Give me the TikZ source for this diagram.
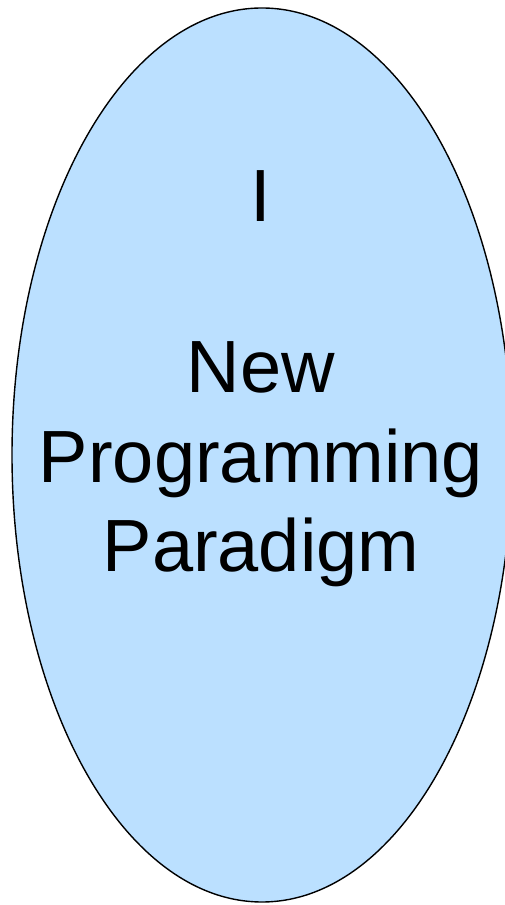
\documentclass[tikz,border=0pt]{standalone}
\usepackage{fontspec}
\setmainfont{Liberation Sans}
\usetikzlibrary{shapes.geometric,positioning}
\definecolor{paleblue}{RGB}{187,224,255}
\tikzset{
  bubble/.style = {ellipse, draw = black, line width = 1.4pt, fill = paleblue,
                   minimum width = 500pt, minimum height = 894pt, inner sep = 0pt},
  bigtext/.style = {anchor = base, inner sep = 0pt,
                    font = \fontsize{74}{89}\selectfont},
}
\begin{document}
\begin{tikzpicture}[x = 1pt, y = 1pt]

	\useasboundingbox (0,0) rectangle (504,905);

	\node[bubble] (part) at (262,450) {};

	\node[bigtext] (roman) at (261,683) {I};
	\node[bigtext] (new)   at (261,512) {New};
	\node[bigtext] (prog)  at (261,422) {Programming};
	\node[bigtext] (para)  at (261,333) {Paradigm};

\end{tikzpicture}
\end{document}
